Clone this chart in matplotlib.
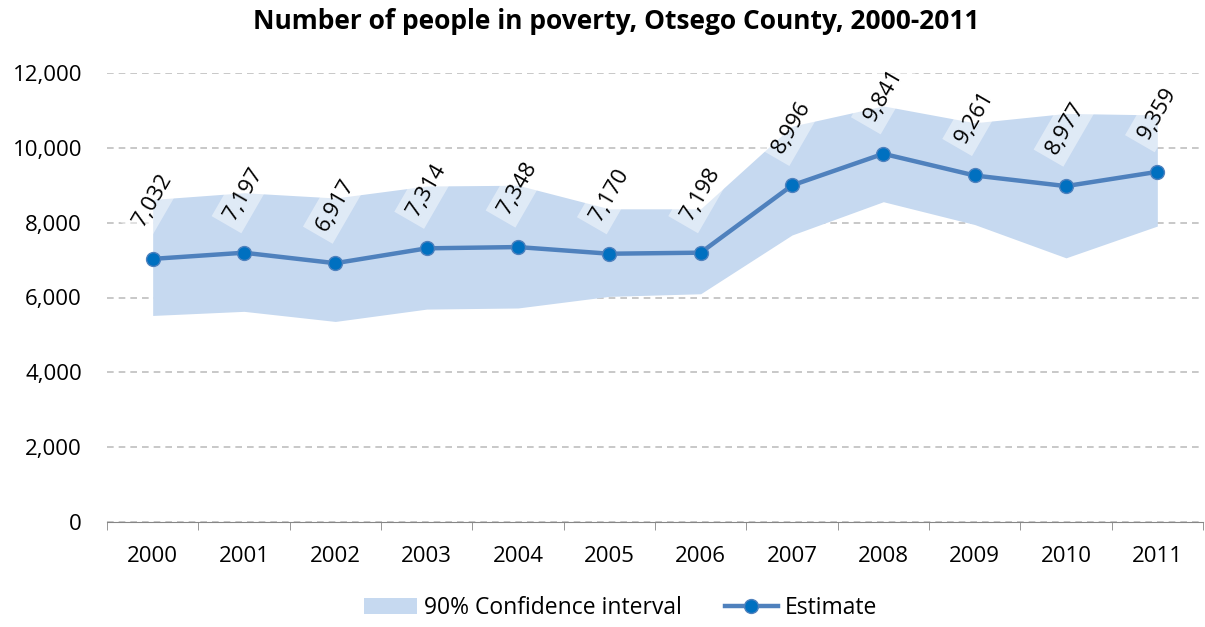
import matplotlib
matplotlib.use('Agg')
import matplotlib.pyplot as plt
import numpy as np

years = ['2000', '2001', '2002', '2003', '2004', '2005', '2006',
         '2007', '2008', '2009', '2010', '2011']
estimate = [7032, 7197, 6917, 7314, 7348, 7170, 7198, 8996, 9841, 9261, 8977, 9359]
ci_low = [5520, 5630, 5360, 5690, 5720, 6030, 6100, 7670, 8560, 7950, 7060, 7910]
ci_high = [8620, 8800, 8660, 8980, 9000, 8370, 8370, 10580, 11120, 10670, 10920, 10880]

plt.rcParams['font.family'] = ['Open Sans', 'DejaVu Sans']

fig = plt.figure(figsize=(12.05, 6.27), dpi=100)
ax = fig.add_axes([107 / 1205, 105 / 627, 1096 / 1205, 449 / 627])

x = np.arange(len(years))
ax.fill_between(x, ci_low, ci_high, color='#C6D9F0', linewidth=0, zorder=1,
                label='90% Confidence interval')
ax.plot(x, estimate, color='#4F81BD', linewidth=3.2, marker='o', markersize=10,
        markerfacecolor='#0070C0', markeredgecolor='#4F81BD', markeredgewidth=1,
        zorder=3, label='Estimate')

for i, v in enumerate(estimate):
    ax.annotate(f'{v:,}', (x[i], v), xytext=(0, 42), textcoords='offset points',
                ha='center', va='center', rotation=60, fontsize=16, zorder=4,
                bbox=dict(boxstyle='square,pad=0.3', facecolor='white', alpha=0.45,
                          edgecolor='none'))

ax.set_xlim(-0.5, len(years) - 0.5)
ax.set_ylim(0, 12000)
ax.set_yticks(np.arange(0, 12001, 2000))
ax.set_yticklabels([f'{t:,}' for t in range(0, 12001, 2000)])
ax.set_xticks(x)
ax.set_xticklabels(years)
ax.set_xticks(np.arange(-0.5, len(years), 1), minor=True)
ax.tick_params(axis='x', which='major', length=0, labelsize=16, pad=17)
ax.tick_params(axis='x', which='minor', length=6, color='#868686', direction='out')
ax.tick_params(axis='y', length=0, labelsize=16, pad=18)
ax.yaxis.grid(True, color='#BFBFBF', linestyle=(0, (4, 3)), linewidth=1.2)
ax.set_axisbelow(True)
for s in ['top', 'right', 'left']:
    ax.spines[s].set_visible(False)
ax.spines['bottom'].set_color('#868686')

fig.text(0.511, 0.965, 'Number of people in poverty, Otsego County, 2000-2011',
         ha='center', va='center', fontsize=19, fontweight='bold')

fig.legend(loc='center', bbox_to_anchor=(0.515, 0.03), ncol=2, frameon=False,
           fontsize=16.5, handlelength=2.3, handletextpad=0.3, columnspacing=1.9)

fig.savefig('out.png', dpi=100)
